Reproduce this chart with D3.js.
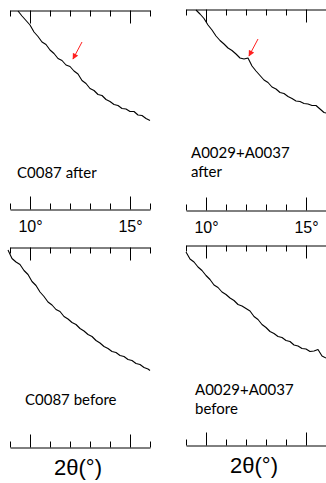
<!DOCTYPE html>
<html>
<head>
<meta charset="utf-8">
<script src="https://cdn.jsdelivr.net/npm/d3@7"></script>
<style>
  html, body { margin: 0; padding: 0; background: #fff; }
  svg { display: block; }
</style>
</head>
<body>
<svg id="chart" width="326" height="483"></svg>
<script>
// ---------- DATA ----------
const tickValues = [9, 10, 11, 12, 13, 14, 15, 16];
const majorTicks = [10, 15];
const majorTickLabels = ["10°", "15°"];
const axisTitle = "2θ(°)";

// C0087 after
const thetaC0087After = [9.4, 9.6, 9.8, 10.0, 10.2, 10.4, 10.6, 10.8, 11.0, 11.2, 11.4, 11.6, 11.8, 12.0, 12.2, 12.4, 12.6, 12.8, 13.0, 13.2, 13.4, 13.6, 13.8, 14.0, 14.2, 14.4, 14.6, 14.8, 15.0, 15.2, 15.4, 15.6, 15.8, 16.0];
const intensityC0087After = [119, 114, 109.5, 105, 98, 93.5, 88, 85.5, 80, 76.5, 71.5, 69.5, 65, 63.5, 59, 56, 49.5, 46.5, 41.5, 39.5, 35.5, 34.5, 30.5, 28.5, 25.5, 24.5, 21.5, 21, 18.5, 18.5, 15, 14.5, 11.5, 9.5];

// A0029+A0037 after
const thetaAAfter = [9.5, 9.7, 9.9, 10.1, 10.3, 10.5, 10.7, 10.9, 11.1, 11.3, 11.5, 11.7, 11.9, 12.1, 12.3, 12.5, 12.7, 12.9, 13.1, 13.3, 13.5, 13.7, 13.9, 14.1, 14.3, 14.5, 14.7, 14.9, 15.1, 15.3, 15.5, 15.7, 15.9, 16.1];
const intensityAAfter = [120, 116, 111.5, 105, 100, 94, 89.5, 86, 82, 79.5, 76, 72, 71, 72, 64, 59, 54.5, 50, 47.5, 43, 41, 37.5, 36.5, 33.5, 31.5, 29, 28.5, 26.5, 26, 24.5, 24.5, 21, 17.5, 16.5];

// C0087 before
const thetaC0087Before = [8.9, 9.1, 9.3, 9.5, 9.7, 9.9, 10.1, 10.3, 10.5, 10.7, 10.9, 11.1, 11.3, 11.5, 11.7, 11.9, 12.1, 12.3, 12.5, 12.7, 12.9, 13.1, 13.3, 13.5, 13.7, 13.9, 14.1, 14.3, 14.5, 14.7, 14.9, 15.1, 15.3, 15.5, 15.7, 15.9, 16.0];
const intensityC0087Before = [125, 116.5, 113, 110.5, 104.5, 100.5, 93.5, 89.5, 83, 78.5, 73, 70, 65.5, 63.5, 58.5, 56, 52.5, 50.5, 46.5, 44, 40.5, 38.5, 34.5, 32, 28.5, 26.5, 23.5, 22.5, 19.5, 18.5, 15.5, 14.5, 11.5, 10.5, 7.5, 6, 4.5];

// A0029+A0037 before
const thetaABefore = [9.0, 9.2, 9.4, 9.6, 9.8, 10.0, 10.2, 10.4, 10.6, 10.8, 11.0, 11.2, 11.4, 11.6, 11.8, 12.0, 12.2, 12.4, 12.6, 12.8, 13.0, 13.2, 13.4, 13.6, 13.8, 14.0, 14.2, 14.4, 14.6, 14.8, 15.0, 15.2, 15.4, 15.6, 15.8, 16.0];
const intensityABefore = [123, 116, 113, 108, 104.5, 99.5, 95.5, 90, 87.5, 83, 80.5, 77, 74.5, 70.5, 69, 66.5, 64, 58.5, 55.5, 50.5, 47.5, 43.5, 41.5, 38.5, 37.5, 34.5, 33.5, 30, 29, 26.5, 26, 23.5, 24, 25.5, 19, 17];

// arrows: [theta, intensity] tail -> tip
const arrowC0087After = [[12.6, 88], [12.15, 71]];
const arrowAAfter = [[12.6, 91], [12.15, 74]];

const labelC0087After = ["C0087 after"];
const labelAAfter = ["A0029+A0037", "after"];
const labelC0087Before = ["C0087 before"];
const labelABefore = ["A0029+A0037", "before"];

// ---------- CHART ----------
const svg = d3.select("#chart");
svg.append("rect").attr("width", 326).attr("height", 483).attr("fill", "#fff");

const defs = svg.append("defs");
defs.append("marker")
  .attr("id", "arrowhead")
  .attr("viewBox", "0 0 10 10")
  .attr("refX", 9).attr("refY", 5)
  .attr("markerWidth", 7).attr("markerHeight", 6)
  .attr("markerUnits", "userSpaceOnUse")
  .attr("orient", "auto")
  .append("path")
  .attr("d", "M0,0 L10,5 L0,10 Z")
  .attr("fill", "#ff2020");

const xLeft = d3.scaleLinear().domain([9, 16]).range([10, 150]);
const xRight = d3.scaleLinear().domain([9, 16]).range([186, 326]);
const yTop = d3.scaleLinear().domain([0, 120]).range([130, 10]);
const yBottom = d3.scaleLinear().domain([0, 120]).range([375, 255]);

const panels = [
  { x: xLeft, y: yTop, theta: thetaC0087After, inten: intensityC0087After, arrow: arrowC0087After,
    topAxisY: 10.5, botAxisY: 209.5, labels: labelC0087After, labelX: 17, labelY: 178, tickLabels: true, title: false },
  { x: xRight, y: yTop, theta: thetaAAfter, inten: intensityAAfter, arrow: arrowAAfter,
    topAxisY: 9.5, botAxisY: 210.5, labels: labelAAfter, labelX: 191, labelY: 158, tickLabels: true, title: false },
  { x: xLeft, y: yBottom, theta: thetaC0087Before, inten: intensityC0087Before, arrow: null,
    topAxisY: 247.5, botAxisY: 447.5, labels: labelC0087Before, labelX: 25, labelY: 405, tickLabels: false, title: true, titleY: 475 },
  { x: xRight, y: yBottom, theta: thetaABefore, inten: intensityABefore, arrow: null,
    topAxisY: 245.5, botAxisY: 445.5, labels: labelABefore, labelX: 195, labelY: 395, tickLabels: false, title: true, titleY: 473 }
];

const minorTicks = tickValues.filter(v => !majorTicks.includes(v));

function styleAxis(g) {
  g.selectAll("path.domain").attr("stroke", "#000").attr("stroke-width", 1);
  g.selectAll(".tick line").attr("stroke", "#000").attr("stroke-width", 1);
}

panels.forEach(p => {
  // top axis: ticks pointing down
  const gTopMinor = svg.append("g").attr("transform", `translate(0,${p.topAxisY})`)
    .call(d3.axisBottom(p.x).tickValues(minorTicks).tickSize(6).tickSizeOuter(0).tickFormat(""));
  styleAxis(gTopMinor);
  const gTopMajor = svg.append("g").attr("transform", `translate(0,${p.topAxisY})`)
    .call(d3.axisBottom(p.x).tickValues(majorTicks).tickSize(13).tickSizeOuter(0).tickFormat(""));
  styleAxis(gTopMajor);
  gTopMajor.select("path.domain").remove();

  // bottom axis: ticks pointing up
  const gBotMinor = svg.append("g").attr("transform", `translate(0,${p.botAxisY})`)
    .call(d3.axisTop(p.x).tickValues(minorTicks).tickSize(6).tickSizeOuter(0).tickFormat(""));
  styleAxis(gBotMinor);
  const gBotMajor = svg.append("g").attr("transform", `translate(0,${p.botAxisY})`)
    .call(d3.axisTop(p.x).tickValues(majorTicks).tickSize(13).tickSizeOuter(0).tickFormat(""));
  styleAxis(gBotMajor);
  gBotMajor.select("path.domain").remove();

  if (p.tickLabels) {
    const gLab = svg.append("g").attr("transform", `translate(0,${p.botAxisY})`)
      .call(d3.axisBottom(p.x).tickValues(majorTicks).tickSize(0).tickPadding(11.5)
        .tickFormat((d, i) => majorTickLabels[i]));
    gLab.select("path.domain").remove();
    gLab.selectAll("text")
      .attr("font-family", "'Liberation Sans', Arial, sans-serif")
      .attr("font-size", 16).attr("fill", "#000");
  }

  if (p.title) {
    const [a, b] = p.x.range();
    svg.append("text")
      .attr("x", (a + b) / 2 - 2).attr("y", p.titleY)
      .attr("text-anchor", "middle")
      .attr("font-family", "'Liberation Sans', Arial, sans-serif")
      .attr("font-size", 22).attr("fill", "#000")
      .text(axisTitle);
  }

  // curve
  const pts = p.theta.map((t, i) => [t, p.inten[i]]);
  const line = d3.line().x(d => p.x(d[0])).y(d => p.y(d[1]));
  svg.append("path").datum(pts)
    .attr("d", line)
    .attr("fill", "none").attr("stroke", "#000").attr("stroke-width", 1.1)
    .attr("stroke-linejoin", "round");

  // arrow
  if (p.arrow) {
    svg.append("line")
      .attr("x1", p.x(p.arrow[0][0])).attr("y1", p.y(p.arrow[0][1]))
      .attr("x2", p.x(p.arrow[1][0])).attr("y2", p.y(p.arrow[1][1]))
      .attr("stroke", "#ff2020").attr("stroke-width", 1)
      .attr("marker-end", "url(#arrowhead)");
  }

  // label
  const t = svg.append("text")
    .attr("x", p.labelX).attr("y", p.labelY)
    .attr("font-family", "Lato, 'Open Sans', sans-serif")
    .attr("font-size", 15).attr("fill", "#000");
  p.labels.forEach((s, i) => {
    t.append("tspan").attr("x", p.labelX).attr("dy", i === 0 ? 0 : 19).text(s);
  });
});
</script>
</body>
</html>
